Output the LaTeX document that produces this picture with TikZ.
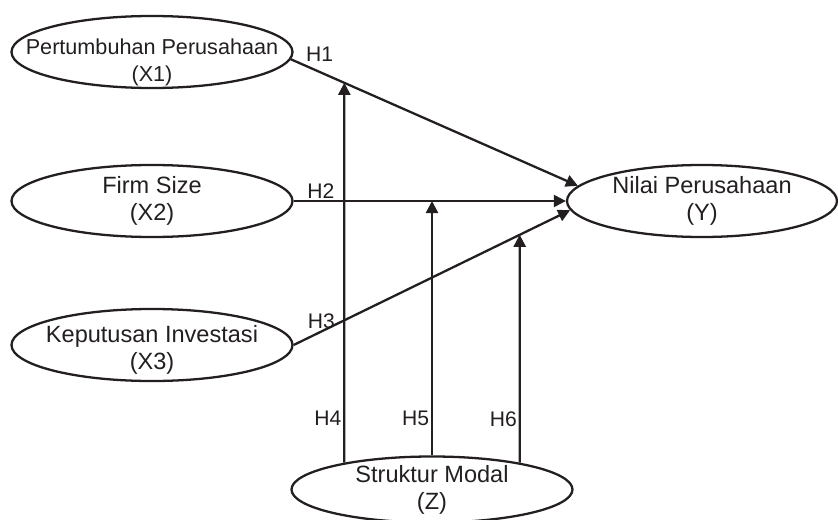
\documentclass[tikz,border=0pt]{standalone}
\usepackage{fontspec}
\setmainfont{Liberation Sans}
\usetikzlibrary{arrows.meta,calc,shapes.geometric}

\definecolor{ink}{RGB}{35,31,32}
\newcommand{\vfont}{\fontsize{13.4}{15.4}\selectfont}

\begin{document}
\begin{tikzpicture}[
  color=ink,
  line width=1.3pt,
  var/.style={ellipse, draw, inner sep=0pt,
              minimum width=5.62cm, minimum height=1.44cm},
  vtxt/.style={align=center, font=\vfont, inner sep=0pt},
  hyp/.style={font=\fontsize{12}{14}\selectfont, inner sep=1pt},
  arr/.style={-{Triangle[length=2.4mm, width=2.4mm]}},
]
  \useasboundingbox (0,0) rectangle (16.76,10.38);

  \node[var, label={[vtxt, font=\fontsize{12.3}{15.4}\selectfont, yshift=-0.20cm]center:Pertumbuhan Perusahaan\\(X1)}]
    (x1) at (3.04,9.34) {};
  \node[var, label={[vtxt]center:Firm Size\\(X2)}]
    (x2) at (3.04,6.36) {};
  \node[var, label={[vtxt, yshift=-0.10cm]center:Keputusan Investasi\\(X3)}]
    (x3) at (3.04,3.48) {};
  \node[var, minimum width=5.40cm, label={[vtxt]center:Nilai Perusahaan\\(Y)}]
    (y) at (14.04,6.36) {};
  \node[var, minimum height=1.32cm, label={[vtxt]center:Struktur Modal\\(Z)}]
    (z) at (8.64,0.59) {};

  % direct effects
  \draw[arr] (x1.-3) -- node[hyp, pos=0.1, above, yshift=4pt] (h1) {H1} (y.173);
  \draw[arr] (x2.east) -- node[hyp, pos=0.1, above] (h2) {H2} (y.west);
  \draw[arr] (x3.east) -- node[hyp, pos=0.1, above] (h3) {H3} (y.184);

  % moderation by Z, tips end on the direct paths
  \draw[arr] (z.163) -- node[hyp, pos=0.117, left] (h4) {H4}
    (intersection of x1.-3--y.173 and z.163--z.163 |- x1.north);
  \draw[arr] (z.north) -- node[hyp, pos=0.147, left] (h5) {H5}
    (z.north |- y.west);
  \draw[arr] (z.17) -- node[hyp, pos=0.19, left] (h6) {H6}
    (intersection of x3.east--y.184 and z.17--z.17 |- y.north);
\end{tikzpicture}
\end{document}
